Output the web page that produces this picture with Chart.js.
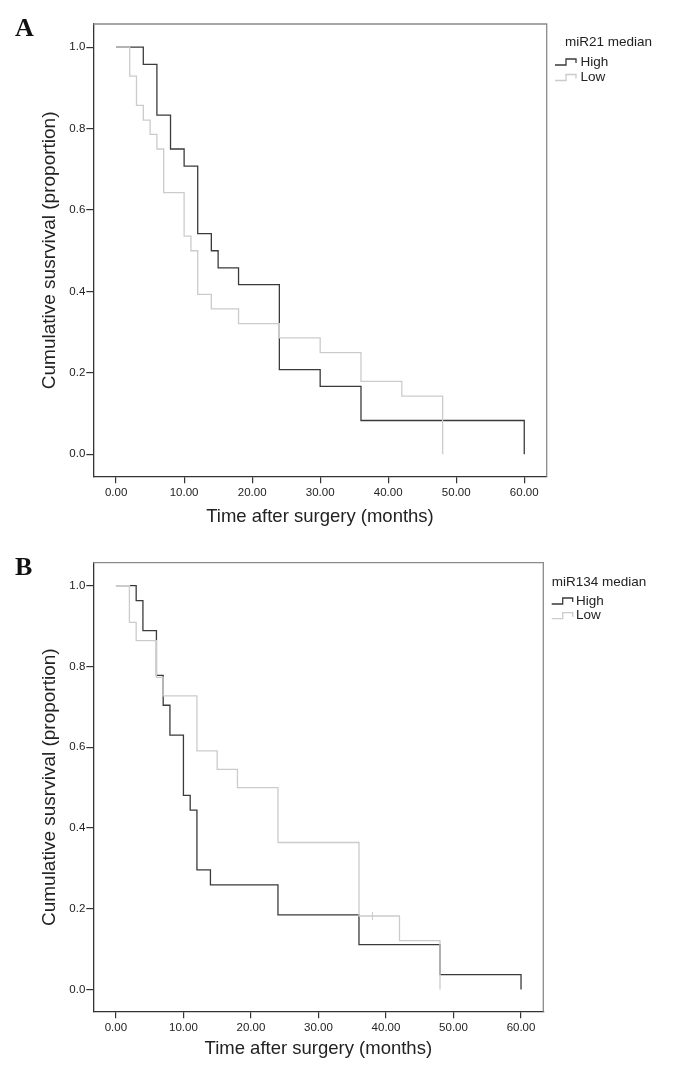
<!DOCTYPE html>
<html>
<head>
<meta charset="utf-8">
<script src="https://cdn.jsdelivr.net/npm/chart.js@4.4.1/dist/chart.umd.min.js"></script>
<style>
  body { margin: 0; background: #fff; }
  .panel { position: relative; width: 688px; height: 534px; }
  .tag { position: absolute; left: 15px; font: bold 26px "Liberation Serif", "Times New Roman", serif; line-height: 26px; color: #111; }
  canvas { display: block; }
</style>
</head>
<body>
<div class="panel"><div class="tag" style="top:15px">A</div><canvas id="chartA" width="688" height="534"></canvas></div>
<div class="panel"><div class="tag" style="top:20px">B</div><canvas id="chartB" width="688" height="534"></canvas></div>
<script>
// Panel A - miR21 median (Kaplan-Meier steps, value after each drop)
const timesA_high = [0, 4, 6, 8, 10, 12, 14, 15, 18, 24, 30, 36, 60];
const survA_high  = [1, 0.958, 0.833, 0.75, 0.708, 0.542, 0.5, 0.458, 0.417, 0.208, 0.167, 0.083, 0];
const timesA_low  = [0, 2, 3, 4, 5, 6, 7, 10, 11, 12, 14, 18, 24, 30, 36, 42, 48];
const survA_low   = [1, 0.929, 0.857, 0.821, 0.786, 0.75, 0.643, 0.536, 0.5, 0.393, 0.357, 0.321, 0.286, 0.25, 0.179, 0.143, 0];

// Panel B - miR134 median
const timesB_high = [0, 3, 4, 6, 7, 8, 10, 11, 12, 14, 24, 36, 48, 60];
const survB_high  = [1, 0.963, 0.889, 0.778, 0.704, 0.63, 0.481, 0.444, 0.296, 0.259, 0.185, 0.111, 0.037, 0];
const timesB_low  = [0, 2, 3, 6, 7, 12, 15, 18, 24, 36, 42, 48];
const survB_low   = [1, 0.909, 0.864, 0.773, 0.727, 0.591, 0.545, 0.5, 0.364, 0.182, 0.121, 0];
const censorB_low_t = [38];
const censorB_low_s = [0.182];

const groupLabels = ['High', 'Low'];
const xTicks = [0, 10, 20, 30, 40, 50, 60];
const yTicks = [0, 0.2, 0.4, 0.6, 0.8, 1.0];

const DARK = '#3a3a3a';
const LIGHT = '#cbcbcb';
const FONT = '"Liberation Sans", Arial, sans-serif';

// step legend drawn outside the plot, SPSS style
const kmLegend = {
  id: 'kmLegend',
  afterDraw(chart, args, o) {
    const ctx = chart.ctx;
    ctx.save();
    ctx.font = '13.5px ' + FONT;
    ctx.fillStyle = '#222';
    ctx.textBaseline = 'middle';
    ctx.fillText(o.title, o.titleX, o.titleY);
    chart.data.datasets.filter(d => d.inLegend).forEach((d, i) => {
      const y = o.rowY + i * o.rowGap;
      const x = o.iconX;
      ctx.strokeStyle = d.borderColor;
      ctx.lineWidth = 1.3;
      ctx.beginPath();
      ctx.moveTo(x, y + 3);
      ctx.lineTo(x + 11, y + 3);
      ctx.lineTo(x + 11, y - 3);
      ctx.lineTo(x + 21, y - 3);
      ctx.lineTo(x + 21, y + 1);
      ctx.stroke();
      ctx.fillText(d.label, o.textX, y);
    });
    ctx.restore();
  }
};

// top + right edges of the plot box
const frame = {
  id: 'frame',
  afterDraw(chart) {
    const { ctx, chartArea: a } = chart;
    ctx.save();
    ctx.strokeStyle = '#8a8a8a';
    ctx.lineWidth = 1.3;
    ctx.beginPath();
    ctx.moveTo(a.left, a.top);
    ctx.lineTo(a.right, a.top);
    ctx.lineTo(a.right, a.bottom);
    ctx.stroke();
    ctx.restore();
  }
};

function kmSet(label, t, s, color, order) {
  return {
    label, inLegend: true, order,
    data: t.map((x, i) => ({ x, y: s[i] })),
    borderColor: color, borderWidth: 1.3,
    stepped: 'before', pointRadius: 0, fill: false,
  };
}

function kmChart(id, datasets, legend, lay) {
  const tickFont = { family: FONT, size: 11.5 };
  return new Chart(document.getElementById(id), {
    type: 'line',
    data: { datasets },
    options: {
      responsive: false,
      animation: false,
      events: [],
      layout: { padding: { top: lay.top, right: lay.right, left: 0, bottom: 0 } },
      plugins: { legend: { display: false }, tooltip: { enabled: false }, kmLegend: legend },
      scales: {
        x: {
          type: 'linear', min: -3.35, max: 63.3,
          afterBuildTicks: s => { s.ticks = xTicks.map(v => ({ value: v })); },
          afterFit: s => { s.height = lay.xHeight; },
          ticks: { callback: v => v.toFixed(2), font: tickFont, color: '#222', padding: 3, maxRotation: 0, autoSkip: false },
          grid: { drawOnChartArea: false, tickLength: 6.5, color: '#333', lineWidth: 1.2 },
          border: { color: '#333', width: 1.3 },
          title: { display: true, text: 'Time after surgery (months)', color: '#222',
                   font: { family: FONT, size: 18.5 }, padding: { top: 0, bottom: lay.xTitlePad } },
        },
        y: {
          type: 'linear', min: -0.055, max: 1.057,
          afterBuildTicks: s => { s.ticks = yTicks.map(v => ({ value: v })); },
          afterFit: s => { s.width = 93.3; },
          ticks: { callback: v => v.toFixed(1), font: tickFont, color: '#222', padding: 1 },
          grid: { drawOnChartArea: false, tickLength: 7, color: '#333', lineWidth: 1.2 },
          border: { color: '#333', width: 1.3 },
          title: { display: true, text: 'Cumulative susrvival (proportion)', color: '#222',
                   font: { family: FONT, size: 19 }, padding: { top: 38.6, bottom: 0 } },
        },
      },
    },
    plugins: [frame, kmLegend],
  });
}

kmChart('chartA', [
  kmSet(groupLabels[0], timesA_high, survA_high, DARK, 1),
  kmSet(groupLabels[1], timesA_low, survA_low, LIGHT, 0),
], { title: 'miR21 median', titleX: 565, titleY: 42.7, iconX: 555, textX: 580.5, rowY: 62, rowGap: 15.5 },
   { top: 24, right: 141.3, xHeight: 57.3, xTitlePad: 6 });

kmChart('chartB', [
  kmSet(groupLabels[0], timesB_high, survB_high, DARK, 1),
  kmSet(groupLabels[1], timesB_low, survB_low, LIGHT, 0),
  {
    type: 'scatter', label: 'censored', order: 0,
    data: censorB_low_t.map((x, i) => ({ x, y: censorB_low_s[i] })),
    pointStyle: 'line', rotation: 90, pointRadius: 4, borderColor: LIGHT, borderWidth: 1, showLine: false,
  },
], { title: 'miR134 median', titleX: 551.7, titleY: 48.7, iconX: 551.7, textX: 576, rowY: 67, rowGap: 14.7 },
   { top: 28.7, right: 144.7, xHeight: 56.3, xTitlePad: 8 });
</script>
</body>
</html>
